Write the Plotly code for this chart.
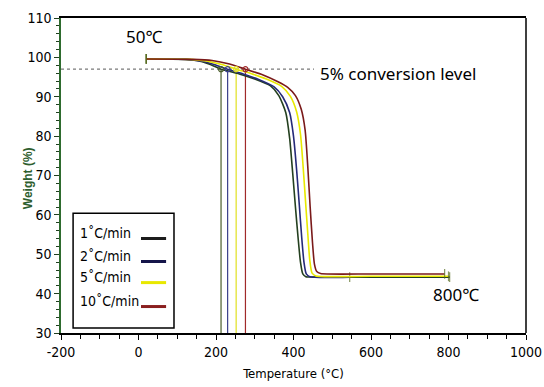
import plotly.graph_objects as go

# ---- data ----
rates = ["1˚C/min", "2˚C/min", "5˚C/min", "10˚C/min"]
curve_colors = ["#24401f", "#252a78", "#e8e800", "#7a1a1a"]
legend_colors = ["#1c1c1c", "#15154a", "#e8e800", "#8a1f1f"]
vline_colors = ["#4b5e2a", "#3a3f8a", "#e0e020", "#a02a2a"]

t1 = [20, 120, 150, 180, 213, 260, 300, 340, 362, 380, 390, 398, 405, 412, 418, 424, 432, 450, 600, 803]
w1 = [99.6, 99.5, 99.2, 98.4, 97.0, 95.8, 94.5, 92.8, 90.3, 86.0, 79.5, 70.5, 62, 54, 48, 45.0, 44.3, 44.2, 44.2, 44.2]

t2 = [20, 125, 160, 195, 230, 270, 310, 350, 372, 390, 400, 408, 415, 421, 427, 433, 442, 545]
w2 = [99.6, 99.5, 99.1, 98.2, 97.0, 95.8, 94.4, 92.5, 90.0, 86.0, 80.0, 71.5, 62.5, 54.5, 48, 45, 44.3, 44.2]

t3 = [20, 135, 175, 215, 252, 290, 330, 370, 392, 408, 418, 425, 431, 437, 442, 448, 458, 600, 800]
w3 = [99.6, 99.5, 99.1, 98.2, 97.0, 95.9, 94.5, 92.6, 90.1, 86.2, 80.5, 72, 63.5, 55, 48.5, 45.2, 44.5, 44.4, 44.4]

t4 = [20, 140, 190, 235, 276, 320, 360, 385, 405, 420, 430, 437, 443, 449, 454, 460, 470, 600, 790]
w4 = [99.6, 99.5, 99.2, 98.3, 97.0, 95.6, 93.8, 92.4, 90.3, 86.8, 81.5, 72, 62, 53, 47.5, 45.6, 45.1, 45.0, 45.0]

curves_t = [t1, t2, t3, t4]
curves_w = [w1, w2, w3, w4]

conv_level = 97.0            # 5% conversion line
conv_line_end = 453          # end of dotted level line (°C)
onset_temps = [213, 230, 252, 276]   # 5% conversion temperatures

x_range = [-200, 1000]
y_range = [30, 110]
x_ticks = [-200, 0, 200, 400, 600, 800, 1000]
x_ticklabels = ["-200", "0", "200", "400", "600", "800", "1000"]
y_ticks = [30, 40, 50, 60, 70, 80, 90, 100, 110]

NARROW = "DejaVu Sans Condensed, Liberation Sans Narrow, Arial Narrow, sans-serif"

fig = go.Figure()

# 5% conversion horizontal line
fig.add_trace(go.Scatter(x=[x_range[0], conv_line_end], y=[conv_level, conv_level], mode="lines",
                         line=dict(color="#7a7a7a", width=1.3, dash="dot"), showlegend=False, hoverinfo="skip"))

# vertical lines at onset temperatures
for T, c in zip(onset_temps, vline_colors):
    fig.add_trace(go.Scatter(x=[T, T], y=[y_range[0], conv_level], mode="lines",
                             line=dict(color=c, width=1.2), showlegend=False, hoverinfo="skip"))

# TGA curves
for t, w, c in zip(curves_t, curves_w, curve_colors):
    sizes = [0] * len(t)
    sizes[0] = 7
    sizes[-1] = 7
    fig.add_trace(go.Scatter(x=t, y=w, mode="lines+markers",
                             line=dict(color=c, width=1.6, shape="spline", smoothing=0.6),
                             marker=dict(symbol="line-ns", size=sizes, line=dict(color="#556b1f", width=1.2)),
                             showlegend=False, hoverinfo="skip"))

# onset markers
for T, c in zip(onset_temps, vline_colors):
    fig.add_trace(go.Scatter(x=[T], y=[conv_level], mode="markers",
                             marker=dict(symbol="circle-open", size=5, color=c, line=dict(width=1.2)),
                             showlegend=False, hoverinfo="skip"))

shapes = []
annotations = []

# right border
shapes.append(dict(type="line", xref="paper", yref="paper", x0=1, x1=1, y0=0, y1=1,
                   line=dict(color="black", width=1.5)))

# custom legend box
lx0, lx1, ly0, ly1 = 0.026, 0.243, 0.016, 0.38
shapes.append(dict(type="rect", xref="paper", yref="paper", x0=lx0, x1=lx1, y0=ly0, y1=ly1,
                   line=dict(color="black", width=1.5), fillcolor="white", layer="above"))
row_y = [0.318, 0.245, 0.178, 0.102]
for i, (name, c) in enumerate(zip(rates, legend_colors)):
    annotations.append(dict(text=name, xref="paper", yref="paper", x=0.036, y=row_y[i],
                            xanchor="left", yanchor="middle", showarrow=False,
                            font=dict(family=NARROW, size=14, color="black")))
    shapes.append(dict(type="line", xref="paper", yref="paper", x0=0.172, x1=0.226,
                       y0=row_y[i] - 0.018, y1=row_y[i] - 0.018, line=dict(color=c, width=3), layer="above"))

txt_font = dict(family="Noto Sans, Open Sans, sans-serif", size=17, color="black")
annotations.append(dict(text="50℃", x=15, y=105.2, xref="x", yref="y", showarrow=False, font=txt_font))
annotations.append(dict(text="5% conversion level", x=463, y=96.0, xref="x", yref="y", showarrow=False,
                        xanchor="left", font=txt_font))
annotations.append(dict(text="800℃", x=820, y=39.8, xref="x", yref="y", showarrow=False, font=txt_font))

# y-axis title placed close to the tick labels
annotations.append(dict(text="<b>Weight (%)</b>", xref="paper", yref="paper", x=-0.072, y=0.49,
                        textangle=-90, showarrow=False, xanchor="center", yanchor="middle",
                        font=dict(family="Liberation Sans, Arial, sans-serif", size=12, color="#2e5e2e")))

axis_font = dict(family=NARROW, size=14, color="black")

fig.update_layout(
    width=544, height=387,
    margin=dict(l=61, r=18, t=18, b=54),
    paper_bgcolor="white", plot_bgcolor="white",
    showlegend=False,
    shapes=shapes, annotations=annotations,
    xaxis=dict(range=x_range, tickvals=x_ticks, ticktext=x_ticklabels, showgrid=False, zeroline=False,
               showline=True, linecolor="black", linewidth=1.5, mirror=True, automargin=False,
               ticks="outside", ticklen=5, tickcolor="black", tickwidth=1.2,
               minor=dict(dtick=50, tick0=-200, ticks="outside", ticklen=4, tickcolor="black"),
               tickfont=axis_font,
               title=dict(text="Temperature (°C)", font=dict(family=NARROW, size=13, color="black"), standoff=10)),
    yaxis=dict(range=y_range, tickvals=y_ticks, showgrid=False, zeroline=False,
               showline=True, linecolor="#2e6b2e", linewidth=1.5, automargin=False,
               ticks="outside", ticklen=5, tickcolor="#1f3f1f", tickwidth=1.2,
               minor=dict(dtick=2, ticks="outside", ticklen=3, tickcolor="#1f3f1f"),
               tickfont=axis_font),
)

fig.write_html("out.html")
